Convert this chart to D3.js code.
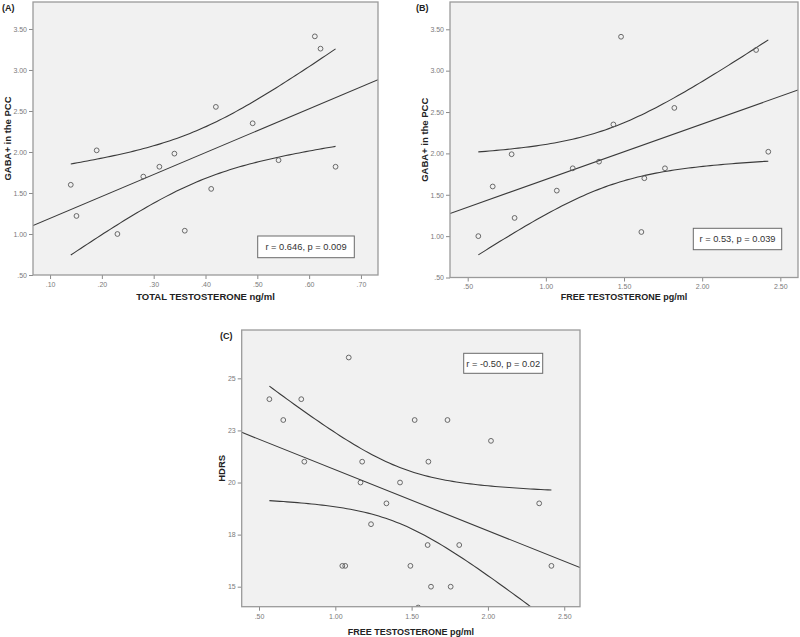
<!DOCTYPE html>
<html>
<head>
<meta charset="utf-8">
<script src="https://cdn.jsdelivr.net/npm/d3@7"></script>
<style>
  html, body { margin: 0; padding: 0; background: #fff; }
  svg { display: block; font-family: "Liberation Sans", Arial, sans-serif; }
</style>
</head>
<body>
<svg id="chart" width="800" height="637"></svg>
<script>
// ---------------- DATA ----------------
// Panel A: total testosterone (ng/ml) vs GABA+ in PCC
const aTotalT = [0.14, 0.151, 0.19, 0.23, 0.28, 0.311, 0.34, 0.36, 0.411, 0.42, 0.491, 0.541, 0.611, 0.622, 0.651];
const aGaba   = [1.60, 1.22, 2.02, 1.00, 1.70, 1.82, 1.98, 1.04, 1.55, 2.55, 2.35, 1.90, 3.41, 3.26, 1.82];
// Panel B: free testosterone (pg/ml) vs GABA+ in PCC
const bFreeT  = [0.568, 0.66, 0.781, 0.80, 1.07, 1.172, 1.34, 1.481, 1.432, 1.822, 2.345, 2.423, 1.762, 1.63, 1.611];
const bGaba   = [1.00, 1.60, 1.99, 1.22, 1.55, 1.82, 1.90, 3.41, 2.35, 2.55, 3.25, 2.02, 1.82, 1.70, 1.05];
// Panel C: free testosterone (pg/ml) vs HDRS
const cFreeT  = [0.568, 0.659, 0.777, 1.088, 0.797, 1.176, 1.52, 1.735, 2.02, 1.61, 1.165, 1.424, 1.335, 1.234, 1.046, 1.065, 2.336, 1.605, 1.812, 1.492, 2.416, 1.627, 1.756, 1.543];
const cHdrs   = [24, 23, 24, 26, 21, 21, 23, 23, 22, 21, 20, 20, 19, 18, 16, 16, 19, 17, 17, 16, 16, 15, 15, 14];

// Tick values and labels
const gabaTicks       = [0.5, 1.0, 1.5, 2.0, 2.5, 3.0, 3.5];
const gabaTickLabels  = [".50", "1.00", "1.50", "2.00", "2.50", "3.00", "3.50"];
const totalTTicks     = [0.1, 0.2, 0.3, 0.4, 0.5, 0.6, 0.7];
const totalTLabels    = [".10", ".20", ".30", ".40", ".50", ".60", ".70"];
const freeTTicks      = [0.5, 1.0, 1.5, 2.0, 2.5];
const freeTLabels     = [".50", "1.00", "1.50", "2.00", "2.50"];
const hdrsTicks       = [15, 17.5, 20, 22.5, 25];
const hdrsLabels      = ["15", "18", "20", "23", "25"];

// Text
const panelLabels = ["(A)", "(B)", "(C)"];
const statTexts   = ["r = 0.646, p = 0.009", "r = 0.53, p = 0.039", "r = -0.50, p = 0.02"];
const xTitles     = ["TOTAL TESTOSTERONE ng/ml", "FREE TESTOSTERONE pg/ml", "FREE TESTOSTERONE pg/ml"];
const yTitles     = ["GABA+ in the PCC", "GABA+ in the PCC", "HDRS"];

// 97.5% t quantiles by degrees of freedom (for 95% CI of mean)
const tCrit = {13: 2.160, 22: 2.074};

// ---------------- LAYOUT ----------------
const panels = [
  { xs: aTotalT, ys: aGaba, left: 33, top: 2, right: 378, bottom: 275,
    xDom: [0.0671, 0.7329], yDom: [0.5, 3.829],
    xT: totalTTicks, xL: totalTLabels, yT: gabaTicks, yL: gabaTickLabels,
    lab: 0, labX: 2, labY: 11, yTitleX: 11, xTitleY: 300, xTitleSize: 9.5,
    box: [257.7, 236, 96.6, 21.7] },
  { xs: bFreeT, ys: bGaba, left: 450, top: 2, right: 798, bottom: 277.5,
    xDom: [0.3868, 2.613], yDom: [0.5, 3.83],
    xT: freeTTicks, xL: freeTLabels, yT: gabaTicks, yL: gabaTickLabels,
    lab: 1, labX: 416, labY: 11, yTitleX: 428, xTitleY: 300, xTitleSize: 9,
    box: [693.3, 228.3, 88.4, 21.4] },
  { xs: cFreeT, ys: cHdrs, left: 241.7, top: 330, right: 580, bottom: 606.7,
    xDom: [0.3866, 2.6033], yDom: [14.04, 27.32],
    xT: freeTTicks, xL: freeTLabels, yT: hdrsTicks, yL: hdrsLabels,
    lab: 2, labX: 220, labY: 339, yTitleX: 225, xTitleY: 634.5, xTitleSize: 9,
    box: [463.7, 353.3, 79, 20] }
];

const svg = d3.select("#chart");

function linreg(xs, ys) {
  const n = xs.length;
  const mx = d3.mean(xs), my = d3.mean(ys);
  let sxx = 0, sxy = 0;
  for (let i = 0; i < n; i++) { sxx += (xs[i]-mx)**2; sxy += (xs[i]-mx)*(ys[i]-my); }
  const b = sxy / sxx, a = my - b * mx;
  let sse = 0;
  for (let i = 0; i < n; i++) sse += (ys[i] - (a + b*xs[i]))**2;
  const s = Math.sqrt(sse / (n - 2));
  return { a, b, s, sxx, mx, n };
}

panels.forEach((p, idx) => {
  const g = svg.append("g");
  const x = d3.scaleLinear().domain(p.xDom).range([p.left, p.right]);
  const y = d3.scaleLinear().domain(p.yDom).range([p.bottom, p.top]);

  const clipId = "clip" + idx;
  svg.append("clipPath").attr("id", clipId)
    .append("rect").attr("x", p.left).attr("y", p.top)
    .attr("width", p.right - p.left).attr("height", p.bottom - p.top);

  // background
  g.append("rect").attr("x", p.left).attr("y", p.top)
    .attr("width", p.right - p.left).attr("height", p.bottom - p.top)
    .attr("fill", "#f1f1f1");

  // axes
  const yAxis = d3.axisLeft(y).tickValues(p.yT)
    .tickFormat((d, i) => p.yL[i]).tickSize(4).tickPadding(2);
  const xAxis = d3.axisBottom(x).tickValues(p.xT)
    .tickFormat((d, i) => p.xL[i]).tickSize(4).tickPadding(3);
  const ya = g.append("g").attr("transform", `translate(${p.left},0)`).call(yAxis);
  const xa = g.append("g").attr("transform", `translate(0,${p.bottom})`).call(xAxis);
  [ya, xa].forEach(ax => {
    ax.select(".domain").remove();
    ax.selectAll(".tick line").attr("stroke", "#8a8a8a").attr("stroke-width", 1);
    ax.selectAll(".tick text").attr("fill", "#7a7a7a")
      .style("font-size", "7px").style("font-family", "'Liberation Sans', Arial, sans-serif");
  });

  // regression & CI
  const r = linreg(p.xs, p.ys);
  const t = tCrit[r.n - 2];
  const fit = xv => r.a + r.b * xv;
  const half = xv => t * r.s * Math.sqrt(1 / r.n + (xv - r.mx) ** 2 / r.sxx);
  const [xmin, xmax] = d3.extent(p.xs);
  const grid = d3.range(0, 81).map(k => xmin + (xmax - xmin) * k / 80);
  const lineGen = d3.line().x(d => x(d[0])).y(d => y(d[1]));
  const pl = g.append("g").attr("clip-path", `url(#${clipId})`);
  pl.append("path")
    .attr("d", lineGen([[p.xDom[0], fit(p.xDom[0])], [p.xDom[1], fit(p.xDom[1])]]))
    .attr("fill", "none").attr("stroke", "#3a3a3a").attr("stroke-width", 1.1);
  pl.append("path").attr("d", lineGen(grid.map(v => [v, fit(v) + half(v)])))
    .attr("fill", "none").attr("stroke", "#3a3a3a").attr("stroke-width", 1.1);
  pl.append("path").attr("d", lineGen(grid.map(v => [v, fit(v) - half(v)])))
    .attr("fill", "none").attr("stroke", "#3a3a3a").attr("stroke-width", 1.1);

  // points
  pl.selectAll("circle.pt").data(p.xs.map((v, i) => [v, p.ys[i]])).join("circle")
    .attr("class", "pt")
    .attr("cx", d => x(d[0])).attr("cy", d => y(d[1])).attr("r", 2.4)
    .attr("fill", "none").attr("stroke", "#5a5a5a").attr("stroke-width", 0.9);

  // frame
  g.append("rect").attr("x", p.left).attr("y", p.top)
    .attr("width", p.right - p.left).attr("height", p.bottom - p.top)
    .attr("fill", "none").attr("stroke", "#9a9a9a").attr("stroke-width", 1.3);

  // stat box
  g.append("rect").attr("x", p.box[0]).attr("y", p.box[1])
    .attr("width", p.box[2]).attr("height", p.box[3])
    .attr("fill", "#fff").attr("stroke", "#6a6a6a").attr("stroke-width", 1);
  g.append("text").attr("x", p.box[0] + p.box[2] / 2).attr("y", p.box[1] + p.box[3] / 2 + 3.3)
    .attr("text-anchor", "middle").attr("fill", "#333")
    .style("font-size", "9.3px").text(statTexts[idx]);

  // titles
  g.append("text").attr("x", (p.left + p.right) / 2).attr("y", p.xTitleY)
    .attr("text-anchor", "middle").attr("fill", "#222")
    .style("font-size", p.xTitleSize + "px").style("font-weight", "bold").text(xTitles[idx]);
  g.append("text")
    .attr("transform", `translate(${p.yTitleX},${(p.top + p.bottom) / 2}) rotate(-90)`)
    .attr("text-anchor", "middle").attr("fill", "#222")
    .style("font-size", "9.5px").style("font-weight", "bold").text(yTitles[idx]);
  g.append("text").attr("x", p.labX).attr("y", p.labY)
    .attr("fill", "#222").style("font-size", "9px").style("font-weight", "bold")
    .text(panelLabels[idx]);
});
</script>
</body>
</html>
